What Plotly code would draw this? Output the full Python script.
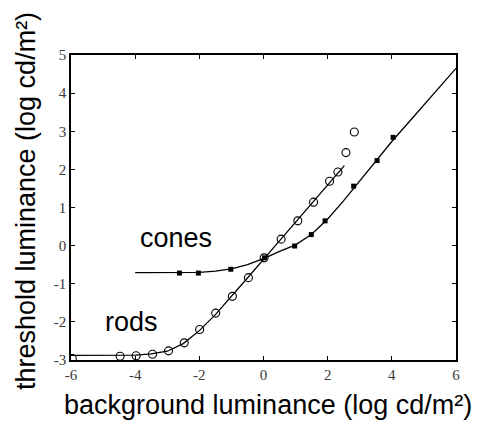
import plotly.graph_objects as go

# Rod data (open circles)
rod_x = [-5.96, -4.47, -3.97, -3.46, -2.96, -2.47, -1.99, -1.49, -0.97, -0.47,
         0.02, 0.55, 1.07, 1.56, 2.06, 2.32, 2.57, 2.83]
rod_y = [-2.96, -2.90, -2.89, -2.85, -2.76, -2.55, -2.20, -1.77, -1.33, -0.84,
         -0.32, 0.17, 0.65, 1.14, 1.69, 1.93, 2.44, 2.98]

# Cone data (filled squares)
cone_x = [-2.62, -2.03, -1.02, 0.03, 0.97, 1.49, 1.92, 2.81, 3.54, 4.04]
cone_y = [-0.72, -0.72, -0.62, -0.32, -0.01, 0.29, 0.65, 1.56, 2.23, 2.84]

# Fitted curves
rod_fit_x = [-6, -5, -4.5, -4, -3.5, -3, -2.5, -2, -1.5, -1, -0.5, 0, 0.5, 1, 1.5, 2, 2.52]
rod_fit_y = [-2.88, -2.88, -2.875, -2.87, -2.84, -2.77, -2.57, -2.23, -1.81, -1.34,
             -0.85, -0.36, 0.13, 0.62, 1.12, 1.62, 2.10]

cone_fit_x = [-4.0, -3, -2, -1.5, -1, -0.5, 0, 0.5, 1, 1.5, 2, 2.5, 3, 3.5, 4, 4.5, 5, 5.5, 6]
cone_fit_y = [-0.71, -0.71, -0.70, -0.67, -0.61, -0.50, -0.34, -0.15, 0.02, 0.30, 0.70,
              1.18, 1.70, 2.21, 2.73, 3.21, 3.69, 4.17, 4.65]

x_ticks = [-6, -4, -2, 0, 2, 4, 6]
x_tick_labels = ["-6", "-4", "-2", "0", "2", "4", "6"]
y_ticks = [-3, -2, -1, 0, 1, 2, 3, 4, 5]
y_tick_labels = ["-3", "-2", "-1", "0", "1", "2", "3", "4", "5"]

fig = go.Figure()
fig.add_trace(go.Scatter(x=rod_fit_x, y=rod_fit_y, mode="lines",
                         line=dict(color="black", width=1.3), showlegend=False))
fig.add_trace(go.Scatter(x=cone_fit_x, y=cone_fit_y, mode="lines",
                         line=dict(color="black", width=1.3), showlegend=False))
fig.add_trace(go.Scatter(x=rod_x, y=rod_y, mode="markers",
                         marker=dict(symbol="circle-open", size=8, color="black",
                                     line=dict(width=1.1)), showlegend=False))
fig.add_trace(go.Scatter(x=cone_x, y=cone_y, mode="markers",
                         marker=dict(symbol="square", size=5, color="black"),
                         showlegend=False))

axis_common = dict(showline=True, linecolor="black", linewidth=1.5, mirror="ticks",
                   ticks="inside", ticklen=4, tickwidth=1.2, tickcolor="black",
                   showgrid=False, zeroline=False,
                   tickfont=dict(family="Liberation Serif", size=15, color="#3a3a3a"))

fig.update_xaxes(range=[-6, 6], tickvals=x_ticks, ticktext=x_tick_labels, **axis_common)
fig.update_yaxes(range=[-3, 5], tickvals=y_ticks, ticktext=y_tick_labels, **axis_common)

title_font = dict(family="Liberation Sans, Arial, sans-serif", size=27, color="black")
fig.add_annotation(text="background luminance (log cd/m²)", xref="paper", yref="paper",
                   x=0.512, y=-0.148, xanchor="center", yanchor="middle",
                   showarrow=False, font=title_font)
fig.add_annotation(text="threshold luminance (log cd/m²)", xref="paper", yref="paper",
                   x=-0.117, y=0.521, xanchor="center", yanchor="middle", textangle=-90,
                   showarrow=False, font=title_font)
fig.add_annotation(text="cones", x=-2.72, y=0.2, xanchor="center", yanchor="middle",
                   showarrow=False, font=title_font)
fig.add_annotation(text="rods", x=-4.11, y=-2.01, xanchor="center", yanchor="middle",
                   showarrow=False, font=title_font)

fig.update_layout(width=477, height=423, margin=dict(l=71, r=21, t=55, b=63),
                  paper_bgcolor="white", plot_bgcolor="white")

fig.write_html("out.html")
